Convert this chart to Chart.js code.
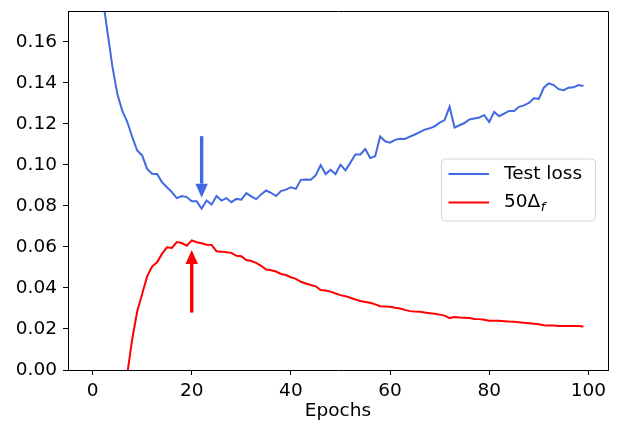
<!DOCTYPE html>
<html>
<head>
<meta charset="utf-8">
<script src="https://cdn.jsdelivr.net/npm/chart.js@4/dist/chart.umd.min.js"></script>
<style>
  html, body { margin: 0; padding: 0; background: #fff; }
  canvas { display: block; }
</style>
</head>
<body>
<canvas id="c" width="624" height="422"></canvas>
<script>
// ---- data ----
const epochs = Array.from({length: 100}, (_, i) => i);
const testLoss = [
  0.26, 0.21, 0.182, 0.165, 0.148, 0.1345, 0.1263, 0.121, 0.1136, 0.107,
  0.1046, 0.098, 0.0957, 0.0956, 0.0916, 0.0891, 0.0867, 0.0838, 0.0848, 0.0843,
  0.0822, 0.0822, 0.0786, 0.0826, 0.0807, 0.0848, 0.0826, 0.0838, 0.0818, 0.0834,
  0.0830, 0.0862, 0.0846, 0.0833, 0.0856, 0.0875, 0.0864, 0.0848, 0.0872, 0.0879,
  0.0891, 0.0883, 0.0927, 0.0929, 0.0927, 0.0949, 0.0999, 0.0955, 0.0976, 0.0955,
  0.1001, 0.0973, 0.1011, 0.1051, 0.1051, 0.1077, 0.1033, 0.1042, 0.1139, 0.1115,
  0.1108, 0.1122, 0.1127, 0.1126, 0.1138, 0.1148, 0.1160, 0.1172, 0.1178, 0.1188,
  0.1206, 0.1218, 0.1283, 0.1182, 0.1193, 0.1204, 0.1221, 0.1226, 0.1231, 0.1242,
  0.1209, 0.1258, 0.1237, 0.1250, 0.1263, 0.1263, 0.1283, 0.1290, 0.1302, 0.1325,
  0.1322, 0.1376, 0.1397, 0.1389, 0.1369, 0.1364, 0.1376, 0.1378, 0.1389, 0.1384
];
const delta50 = [
  null, null, null, null, null, null, -0.03, -0.002, 0.015, 0.0285,
  0.037, 0.0455, 0.0504, 0.0525, 0.0566, 0.0598, 0.0595, 0.0624, 0.0619, 0.0606,
  0.0632, 0.0623, 0.0618, 0.0611, 0.0610, 0.0579, 0.0577, 0.0574, 0.0571, 0.0557,
  0.0555, 0.0536, 0.0531, 0.0522, 0.0508, 0.0490, 0.0486, 0.0480, 0.0468, 0.0463,
  0.0452, 0.0444, 0.0430, 0.0422, 0.0414, 0.0408, 0.0390, 0.0387, 0.0382, 0.0373,
  0.0365, 0.0360, 0.0352, 0.0344, 0.0336, 0.0332, 0.0328, 0.0320, 0.0311, 0.0310,
  0.0308, 0.0303, 0.0300, 0.0293, 0.0287, 0.0285, 0.0284, 0.0280, 0.0277, 0.0274,
  0.0270, 0.0265, 0.0253, 0.0258, 0.0256, 0.0255, 0.0253, 0.0249, 0.0248, 0.0245,
  0.0240, 0.0240, 0.0240, 0.0238, 0.0236, 0.0235, 0.0233, 0.0230, 0.0228, 0.0226,
  0.0223, 0.0218, 0.0217, 0.0217, 0.0215, 0.0215, 0.0215, 0.0214, 0.0214, 0.0212
];
const xTicks = [0, 20, 40, 60, 80, 100];
const yTicks = [0, 0.02, 0.04, 0.06, 0.08, 0.10, 0.12, 0.14, 0.16];
const seriesLabels = ['Test loss', '50Δ'];
const seriesColors = ['#4169e1', '#ff0000'];
// annotation arrows: epoch, tail value, tip value
const arrowEpochs = [22, 20];
const arrowTails = [0.114, 0.028];
const arrowTips = [0.084, 0.0585];
const arrowColors = ['#4169e1', '#ff0000'];

const FONT = 'DejaVu Sans';
const FS = 18.5;

const toPts = arr => epochs.map((e, i) => ({x: e, y: arr[i]}));

const framePlugin = {
  id: 'frame',
  afterDatasetsDraw(chart) {
    const {ctx, chartArea: a, scales} = chart;
    // arrows
    for (let i = 0; i < arrowEpochs.length; i++) {
      const x = scales.x.getPixelForValue(arrowEpochs[i]);
      const yt = scales.y.getPixelForValue(arrowTails[i]);
      const yp = scales.y.getPixelForValue(arrowTips[i]);
      const dir = Math.sign(yp - yt);
      const headLen = 14, headW = 12.5, shaftW = 3.4;
      const yb = yp - dir * headLen;
      ctx.save();
      ctx.fillStyle = arrowColors[i];
      ctx.fillRect(x - shaftW / 2, Math.min(yt, yb), shaftW, Math.abs(yb - yt));
      ctx.beginPath();
      ctx.moveTo(x - headW / 2, yb);
      ctx.lineTo(x + headW / 2, yb);
      ctx.lineTo(x, yp);
      ctx.closePath();
      ctx.fill();
      ctx.restore();
    }
    // frame (top & right spines)
    ctx.save();
    ctx.strokeStyle = '#000';
    ctx.lineWidth = 1;
    ctx.beginPath();
    ctx.moveTo(Math.round(a.left) + 0.5, Math.round(a.top) + 0.5);
    ctx.lineTo(Math.round(a.right) + 0.5, Math.round(a.top) + 0.5);
    ctx.lineTo(Math.round(a.right) + 0.5, Math.round(a.bottom) + 0.5);
    ctx.stroke();
    ctx.restore();
    // legend
    const bx = 441.5, by = 159, bw = 154, bh = 62, r = 4;
    ctx.save();
    ctx.fillStyle = 'rgba(255,255,255,0.8)';
    ctx.strokeStyle = '#d6d6d6';
    ctx.lineWidth = 1;
    ctx.beginPath();
    ctx.moveTo(bx + r, by);
    ctx.lineTo(bx + bw - r, by);
    ctx.arcTo(bx + bw, by, bx + bw, by + r, r);
    ctx.lineTo(bx + bw, by + bh - r);
    ctx.arcTo(bx + bw, by + bh, bx + bw - r, by + bh, r);
    ctx.lineTo(bx + r, by + bh);
    ctx.arcTo(bx, by + bh, bx, by + bh - r, r);
    ctx.lineTo(bx, by + r);
    ctx.arcTo(bx, by, bx + r, by, r);
    ctx.closePath();
    ctx.fill();
    ctx.stroke();
    const rows = [174, 202.5];
    for (let i = 0; i < 2; i++) {
      const ds = chart.data.datasets[i];
      ctx.strokeStyle = ds.borderColor;
      ctx.lineWidth = 2;
      ctx.beginPath();
      ctx.moveTo(448.5, rows[i]);
      ctx.lineTo(489, rows[i]);
      ctx.stroke();
      ctx.fillStyle = '#000';
      ctx.textBaseline = 'middle';
      ctx.textAlign = 'left';
      ctx.font = FS + 'px "' + FONT + '"';
      ctx.fillText(ds.label, 504, rows[i]);
      if (i === 1) {
        const w = ctx.measureText(ds.label).width;
        ctx.font = 'italic ' + (FS * 0.7) + 'px "' + FONT + '"';
        ctx.fillText('f', 504 + w + 0.5, rows[i] + 5);
      }
    }
    ctx.restore();
  }
};

new Chart(document.getElementById('c'), {
  type: 'line',
  data: {
    datasets: [
      { label: seriesLabels[0], data: toPts(testLoss), borderColor: seriesColors[0], backgroundColor: seriesColors[0],
        borderWidth: 2, pointRadius: 0, tension: 0, fill: false, clip: 0 },
      { label: seriesLabels[1], data: toPts(delta50), borderColor: seriesColors[1], backgroundColor: seriesColors[1],
        borderWidth: 2, pointRadius: 0, tension: 0, fill: false, clip: 0, spanGaps: false }
    ]
  },
  options: {
    responsive: false,
    animation: false,
    devicePixelRatio: 1,
    layout: { padding: { left: 0, right: 16, top: 11, bottom: 0 } },
    plugins: { legend: { display: false }, tooltip: { enabled: false } },
    scales: {
      x: {
        type: 'linear', min: -4.95, max: 103.95,
        afterBuildTicks: s => { s.ticks = xTicks.map(v => ({value: v})); },
        afterFit: s => { s.height = 52; s.paddingLeft = 0; s.paddingRight = 0; },
        grid: { drawOnChartArea: false, drawTicks: true, tickLength: 5, tickColor: '#000', color: '#000' },
        border: { display: true, color: '#000', width: 1 },
        ticks: { color: '#000', font: { family: FONT, size: FS }, padding: 5, maxRotation: 0,
                 callback: v => String(v) },
        title: { display: true, text: 'Epochs', color: '#000', font: { family: FONT, size: FS }, padding: { top: 0, bottom: 0 } }
      },
      y: {
        type: 'linear', min: 0, max: 0.175,
        afterBuildTicks: s => { s.ticks = yTicks.map(v => ({value: v})); },
        afterFit: s => { s.width = 68; s.paddingTop = 0; s.paddingBottom = 0; },
        grid: { drawOnChartArea: false, drawTicks: true, tickLength: 5, tickColor: '#000', color: '#000' },
        border: { display: true, color: '#000', width: 1 },
        ticks: { color: '#000', font: { family: FONT, size: FS }, padding: 6,
                 callback: v => Number(v).toFixed(2) }
      }
    }
  },
  plugins: [framePlugin]
});
</script>
</body>
</html>
